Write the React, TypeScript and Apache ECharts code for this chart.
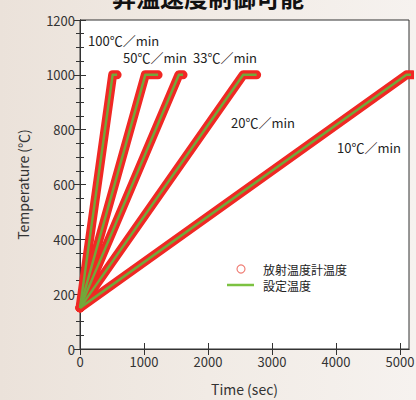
import React, { useEffect, useRef } from "react";
import * as echarts from "echarts";

// Heating-rate runs: start temperature, ramp end time, hold end time (sec)
const rateLabels = ["100℃／min", "50℃／min", "33℃／min", "20℃／min", "10℃／min"];
const startTemp = [150, 150, 150, 150, 150];
const rampEndTime = [510, 1020, 1545, 2550, 5100];
const holdEndTime = [580, 1220, 1610, 2760, 5200];
const holdTemp = [1000, 1000, 1000, 1000, 1000];

const xTicks = [0, 1000, 2000, 3000, 4000, 5000];
const yTicks = [0, 200, 400, 600, 800, 1000, 1200];

const measuredName = "放射温度計温度";
const setName = "設定温度";
const titleText = "昇温速度制御可能";

const FONT = "'Noto Sans CJK JP', 'Noto Sans', sans-serif";

export default function App() {
  const ref = useRef<HTMLDivElement>(null);
  useEffect(() => {
    if (!ref.current) return;
    const chart = echarts.init(ref.current, undefined, { renderer: "svg" });
    const runs = rateLabels.map((_, i) => [
      [0, startTemp[i]],
      [rampEndTime[i], holdTemp[i]],
      [holdEndTime[i], holdTemp[i]],
    ]);
    const redSeries = runs.map((d) => ({
      name: measuredName,
      type: "line",
      data: d,
      showSymbol: false,
      symbol: "none",
      z: 2,
      lineStyle: { color: "#f02824", width: 9, cap: "round", join: "round" },
      silent: true,
    }));
    const greenSeries = runs.map((d) => ({
      name: setName,
      type: "line",
      data: d,
      showSymbol: false,
      symbol: "none",
      z: 3,
      lineStyle: { color: "#72a83a", width: 2.5, join: "round" },
      silent: true,
    }));
    const labelPos: [number, number][] = [
      [88, 40],
      [123, 57],
      [193, 57],
      [231, 122],
      [337, 147],
    ];
    const xMax = 5140;
    const fmt = (v: number) => String(v);
    const commonX = {
      type: "value",
      min: 0,
      max: xMax,
      interval: 1000,
      axisLine: { show: true, lineStyle: { color: "#333", width: 1 } },
      axisTick: { show: true, inside: true, length: 6, lineStyle: { color: "#333" }, customValues: xTicks },
      splitLine: { show: false },
    };
    const commonY = {
      type: "value",
      min: 0,
      max: 1200,
      interval: 200,
      axisLine: { show: true, lineStyle: { color: "#333", width: 1 } },
      axisTick: { show: true, inside: true, length: 6, lineStyle: { color: "#333" } },
      minorTick: { show: true, splitNumber: 4, length: 4, lineStyle: { color: "#333" } },
      splitLine: { show: false },
    };
    chart.setOption({
      animation: false,
      textStyle: { fontFamily: FONT },
      grid: {
        left: 80,
        right: 7,
        top: 20,
        bottom: 51,
        outerBoundsMode: "none",
        containLabel: false,
        show: true,
        backgroundColor: "#ffffff",
        borderColor: "#333",
        borderWidth: 1,
      },
      xAxis: [
        {
          ...commonX,
          position: "bottom",
          name: "Time (sec)",
          nameLocation: "middle",
          nameGap: 33,
          nameTextStyle: { fontSize: 14, color: "#333", fontFamily: FONT },
          axisLabel: {
            show: true,
            customValues: xTicks,
            formatter: fmt,
            fontSize: 13,
            color: "#333",
            margin: 6,
            fontFamily: FONT,
          },
        },
        {
          ...commonX,
          position: "top",
          axisLabel: { show: false },
        },
      ],
      yAxis: [
        {
          ...commonY,
          position: "left",
          name: "Temperature (℃)",
          nameLocation: "middle",
          nameGap: 50,
          nameTextStyle: { fontSize: 14, color: "#333", fontFamily: FONT },
          axisLabel: {
            show: true,
            customValues: yTicks,
            formatter: fmt,
            fontSize: 13,
            color: "#333",
            margin: 5,
            fontFamily: FONT,
          },
        },
        {
          ...commonY,
          position: "right",
          axisLabel: { show: false },
        },
      ],
      series: [...redSeries, ...greenSeries],
      graphic: [
        {
          type: "text",
          left: "center",
          top: -16,
          style: { text: titleText, font: `bold 24px ${FONT}`, fill: "#111" },
          z: 10,
        },
        ...rateLabels.map((t, i) => ({
          type: "text",
          x: labelPos[i][0],
          y: labelPos[i][1],
          style: {
            text: t,
            font: `13px ${FONT}`,
            fill: "#222",
            verticalAlign: "middle",
          },
          z: 10,
        })),
        {
          type: "circle",
          shape: { cx: 241, cy: 269, r: 4 },
          style: { fill: "none", stroke: "#f08078", lineWidth: 1.2 },
          z: 10,
        },
        {
          type: "line",
          shape: { x1: 227, y1: 285, x2: 254, y2: 285 },
          style: { stroke: "#7cc242", lineWidth: 2.5 },
          z: 10,
        },
        {
          type: "text",
          x: 263,
          y: 269,
          style: { text: measuredName, font: `12px ${FONT}`, fill: "#222", verticalAlign: "middle" },
          z: 10,
        },
        {
          type: "text",
          x: 263,
          y: 285,
          style: { text: setName, font: `12px ${FONT}`, fill: "#222", verticalAlign: "middle" },
          z: 10,
        },
      ],
    });
    return () => chart.dispose();
  }, []);
  return (
    <div
      style={{
        position: "fixed",
        left: 0,
        top: 0,
        width: 416,
        height: 400,
        background: "linear-gradient(90deg, #ebe2da 0%, #f1ebe5 50%, #f6f2ef 100%)",
      }}
    >
      <div ref={ref} style={{ width: 416, height: 400 }} />
    </div>
  );
}
